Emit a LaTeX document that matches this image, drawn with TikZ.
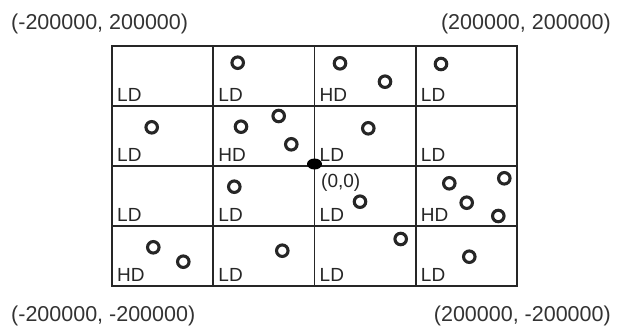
\documentclass[tikz,border=0pt]{standalone}
\usepackage{fontspec}
\setmainfont{Liberation Sans}
\usepackage{tikz}
\usetikzlibrary{shapes,arrows,positioning}

\begin{document}
\begin{tikzpicture}[x=1pt, y=-1pt, node distance=0pt]
    % Define styles
    \tikzstyle{cell} = [rectangle, minimum width=101.25pt, minimum height=60pt, inner sep=0pt, outer sep=0pt, draw=black!85, line width=1.9pt]
    \tikzstyle{density} = [anchor=base west, inner sep=0pt, font=\fontsize{19}{19}\selectfont, text=black!85]
    \tikzstyle{ring} = [circle, minimum size=11.5pt, inner sep=0pt, draw=black!85, line width=3.1pt]
    \tikzstyle{corner} = [inner sep=0pt, font=\fontsize{21.5}{21.5}\selectfont, text=black!80]
    \tikzstyle{origin} = [ellipse, minimum width=15pt, minimum height=11pt, inner sep=0pt, fill=black]

    \useasboundingbox (0,0) rectangle (618,332);

    % Cells
    \node[cell, anchor=north west] (cell_1_1) at (112,46) {};
    \node[cell, right=of cell_1_1] (cell_1_2) {};
    \node[cell, right=of cell_1_2] (cell_1_3) {};
    \node[cell, right=of cell_1_3] (cell_1_4) {};
    \node[cell, below=of cell_1_1] (cell_2_1) {};
    \node[cell, right=of cell_2_1] (cell_2_2) {};
    \node[cell, right=of cell_2_2] (cell_2_3) {};
    \node[cell, right=of cell_2_3] (cell_2_4) {};
    \node[cell, below=of cell_2_1] (cell_3_1) {};
    \node[cell, right=of cell_3_1] (cell_3_2) {};
    \node[cell, right=of cell_3_2] (cell_3_3) {};
    \node[cell, right=of cell_3_3] (cell_3_4) {};
    \node[cell, below=of cell_3_1] (cell_4_1) {};
    \node[cell, right=of cell_4_1] (cell_4_2) {};
    \node[cell, right=of cell_4_2] (cell_4_3) {};
    \node[cell, right=of cell_4_3] (cell_4_4) {};

    % Density labels
    \node[density] (dens_1_1) at ([shift={(5pt,5pt)}]cell_1_1.south west) {LD};
    \node[density] (dens_1_2) at ([shift={(5pt,5pt)}]cell_1_2.south west) {LD};
    \node[density] (dens_1_3) at ([shift={(5pt,5pt)}]cell_1_3.south west) {HD};
    \node[density] (dens_1_4) at ([shift={(5pt,5pt)}]cell_1_4.south west) {LD};
    \node[density] (dens_2_1) at ([shift={(5pt,5pt)}]cell_2_1.south west) {LD};
    \node[density] (dens_2_2) at ([shift={(5pt,5pt)}]cell_2_2.south west) {HD};
    \node[density] (dens_2_3) at ([shift={(5pt,5pt)}]cell_2_3.south west) {LD};
    \node[density] (dens_2_4) at ([shift={(5pt,5pt)}]cell_2_4.south west) {LD};
    \node[density] (dens_3_1) at ([shift={(5pt,5pt)}]cell_3_1.south west) {LD};
    \node[density] (dens_3_2) at ([shift={(5pt,5pt)}]cell_3_2.south west) {LD};
    \node[density] (dens_3_3) at ([shift={(5pt,5pt)}]cell_3_3.south west) {LD};
    \node[density] (dens_3_4) at ([shift={(5pt,5pt)}]cell_3_4.south west) {HD};
    \node[density] (dens_4_1) at ([shift={(5pt,5pt)}]cell_4_1.south west) {HD};
    \node[density] (dens_4_2) at ([shift={(5pt,5pt)}]cell_4_2.south west) {LD};
    \node[density] (dens_4_3) at ([shift={(5pt,5pt)}]cell_4_3.south west) {LD};
    \node[density] (dens_4_4) at ([shift={(5pt,5pt)}]cell_4_4.south west) {LD};
    \node[density] (zero_label) at (321,187) {(0,0)};

    % Points
    \node[ring] (pt_a) at (237.7,62.7) {};
    \node[ring] (pt_b) at (340,63.3) {};
    \node[ring] (pt_c) at (385,81.7) {};
    \node[ring] (pt_d) at (441,64) {};
    \node[ring] (pt_e) at (151.7,127.3) {};
    \node[ring] (pt_f) at (241,126.7) {};
    \node[ring] (pt_g) at (278.7,116) {};
    \node[ring] (pt_h) at (291.3,144.3) {};
    \node[ring] (pt_i) at (368.3,128.3) {};
    \node[ring] (pt_j) at (234.3,186.7) {};
    \node[ring] (pt_k) at (360,201.7) {};
    \node[ring] (pt_l) at (449.3,183.3) {};
    \node[ring] (pt_m) at (466.7,202.7) {};
    \node[ring] (pt_n) at (504.3,178.3) {};
    \node[ring] (pt_o) at (498.3,216) {};
    \node[ring] (pt_p) at (153.3,247.3) {};
    \node[ring] (pt_q) at (183.3,261.7) {};
    \node[ring] (pt_r) at (282.3,250.7) {};
    \node[ring] (pt_s) at (400.7,239) {};
    \node[ring] (pt_t) at (469.3,256.7) {};

    % Origin and corners
    \node[origin] (origin) at ([yshift=2pt]cell_2_2.south east) {};
    \node[corner, anchor=base west] (top_left) at (11,29) {(-200000, 200000)};
    \node[corner, anchor=base east] (top_right) at (611,29) {(200000, 200000)};
    \node[corner, anchor=base west] (bottom_left) at (11,321) {(-200000, -200000)};
    \node[corner, anchor=base east] (bottom_right) at (611,321) {(200000, -200000)};
\end{tikzpicture}
\end{document}
